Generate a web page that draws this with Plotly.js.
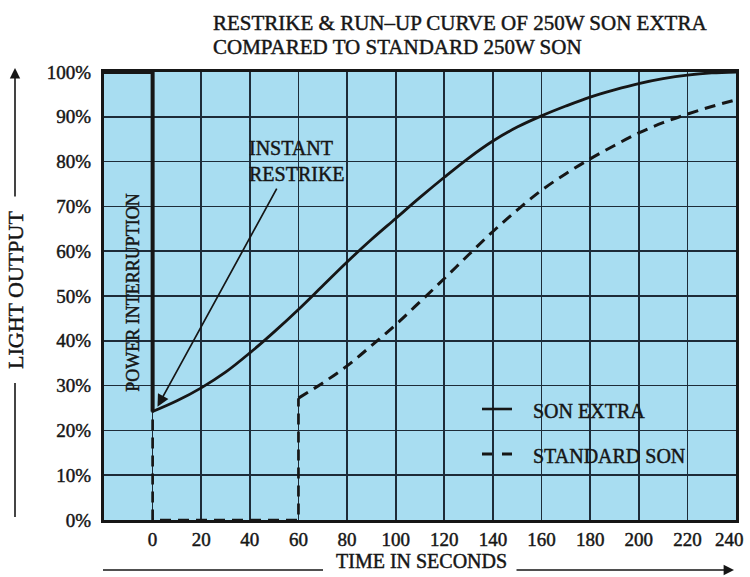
<!DOCTYPE html>
<html>
<head>
<meta charset="utf-8">
<script src="https://cdn.plot.ly/plotly-3.0.1.min.js"></script>
<style>
  html, body { margin: 0; padding: 0; background: #ffffff; }
  #chart { width: 750px; height: 577px; }
  #chart text { stroke: #161616; stroke-width: 0.45px; }
</style>
</head>
<body>
<div id="chart"></div>
<script>
// ---- data ----
// SON EXTRA: power interruption step, then run-up from instant restrike
const extraStepTime = [-20, 0, 0];
const extraStepOutput = [100, 100, 24.2];
const extraRunTime = [0, 10, 20, 30, 40, 50, 60, 70, 80, 90, 100, 110, 120, 130, 140, 150, 160, 170, 180, 190, 200, 210, 220, 230, 240];
const extraRunOutput = [24.2, 26.6, 29.5, 33.0, 37.3, 42.0, 47.0, 52.3, 57.6, 62.6, 67.3, 72.0, 76.5, 80.8, 84.6, 87.7, 90.2, 92.4, 94.4, 96.0, 97.4, 98.5, 99.3, 99.8, 100];

// STANDARD SON: output drops to zero, restrikes after 60 s, then runs up
const standardStepTime = [-20, 0, 0, 60, 60];
const standardStepOutput = [100, 100, 0, 0, 27.2];
const standardRunTime = [60, 70, 80, 90, 100, 110, 120, 130, 140, 150, 160, 170, 180, 190, 200, 210, 220, 230, 240];
const standardRunOutput = [27.2, 30.6, 34.4, 38.9, 43.6, 48.7, 53.9, 59.2, 64.4, 69.2, 73.6, 77.3, 80.6, 83.6, 86.4, 88.7, 90.6, 92.3, 93.8];

const xTickValues = [0, 20, 40, 60, 80, 100, 120, 140, 160, 180, 200, 220, 240];
const xTickLabels = ['0', '20', '40', '60', '80', '100', '120', '140', '160', '180', '200', '220', '240'];
const yTickValues = [0, 10, 20, 30, 40, 50, 60, 70, 80, 90, 100];
const yTickLabels = ['0%', '10%', '20%', '30%', '40%', '50%', '60%', '70%', '80%', '90%', '100%'];

const seriesNames = ['SON EXTRA', 'STANDARD SON'];
const titleLines = ['RESTRIKE &amp; RUN–UP CURVE OF 250W SON EXTRA', 'COMPARED TO STANDARD 250W SON'];
const xAxisLabel = 'TIME IN SECONDS';
const yAxisLabel = 'LIGHT OUTPUT';
const noteRestrike = 'INSTANT<br>RESTRIKE';
const noteInterruption = 'POWER INTERRUPTION';

// ---- styling ----
const INK = '#161616';
const GRID = '#1d2b38';
const BG = '#a8ddf1';
const SERIF = '"Liberation Serif", "Times New Roman", serif';
const DASH = '11px,7px';

const traces = [
  { x: standardStepTime, y: standardStepOutput, name: seriesNames[1], type: 'scatter', mode: 'lines',
    line: { color: INK, width: 2.7, dash: DASH }, cliponaxis: false, showlegend: false },
  { x: standardRunTime, y: standardRunOutput, name: seriesNames[1], type: 'scatter', mode: 'lines',
    line: { color: INK, width: 3, dash: DASH, shape: 'spline', smoothing: 1 }, cliponaxis: false, showlegend: false },
  { x: extraStepTime, y: extraStepOutput, name: seriesNames[0], type: 'scatter', mode: 'lines',
    line: { color: INK, width: 4 }, cliponaxis: false, showlegend: false },
  { x: extraRunTime, y: extraRunOutput, name: seriesNames[0], type: 'scatter', mode: 'lines',
    line: { color: INK, width: 2.8, shape: 'spline', smoothing: 1 }, cliponaxis: false, showlegend: false }
];

const px = v => (v - 104) / 632;   // helper: pixel x -> paper
const py = v => (520 - v) / 448;   // helper: pixel y -> paper

// the last tick label sits at the right edge of the page: draw it nudged inward
const lastTick = xTickValues.length - 1;
const axisTickText = xTickLabels.map((t, i) => (i === lastTick ? '' : t));

const layout = {
  width: 750, height: 577,
  margin: { l: 104, r: 14, t: 72, b: 57, pad: 0 },
  paper_bgcolor: '#ffffff',
  plot_bgcolor: BG,
  showlegend: false,
  xaxis: {
    range: [-20, 240], tickvals: xTickValues, ticktext: axisTickText,
    showgrid: true, gridcolor: GRID, gridwidth: 1.7, zeroline: false,
    showline: true, linecolor: INK, linewidth: 3, mirror: true,
    ticks: '', ticklabelstandoff: 0,
    tickfont: { family: SERIF, size: 19, color: INK },
    fixedrange: true
  },
  yaxis: {
    range: [0, 100], tickvals: yTickValues, ticktext: yTickLabels,
    showgrid: true, gridcolor: GRID, gridwidth: 1.7, zeroline: false,
    showline: true, linecolor: INK, linewidth: 3, mirror: true,
    ticks: '', ticklabelstandoff: 6,
    tickfont: { family: SERIF, size: 19, color: INK },
    fixedrange: true
  },
  shapes: [
    // legend samples
    { type: 'line', xref: 'paper', yref: 'paper', x0: px(482), x1: px(512), y0: py(409), y1: py(409), line: { color: INK, width: 2.6 } },
    { type: 'line', xref: 'paper', yref: 'paper', x0: px(482), x1: px(512), y0: py(454), y1: py(454), line: { color: INK, width: 2.8, dash: '10px,10px' } },
    // axis-label guide lines
    { type: 'line', xref: 'paper', yref: 'paper', x0: px(15), x1: px(15), y0: py(517), y1: py(383), line: { color: INK, width: 1.6 } },
    { type: 'line', xref: 'paper', yref: 'paper', x0: px(103), x1: px(323), y0: py(570), y1: py(570), line: { color: INK, width: 1.6 } }
  ],
  annotations: [
    // last x tick label
    { xref: 'x', yref: 'paper', x: xTickValues[lastTick], xshift: -7, y: py(539), xanchor: 'center', yanchor: 'middle', text: xTickLabels[lastTick], showarrow: false, font: { family: SERIF, size: 19, color: INK } },
    // title
    { xref: 'paper', yref: 'paper', x: px(211), y: py(23), xanchor: 'left', yanchor: 'middle', text: titleLines[0], showarrow: false, font: { family: SERIF, size: 21, color: INK } },
    { xref: 'paper', yref: 'paper', x: px(211), y: py(47), xanchor: 'left', yanchor: 'middle', text: titleLines[1], showarrow: false, font: { family: SERIF, size: 21, color: INK } },
    // legend text
    { xref: 'paper', yref: 'paper', x: px(531), y: py(411), xanchor: 'left', yanchor: 'middle', text: seriesNames[0], showarrow: false, font: { family: SERIF, size: 20, color: INK } },
    { xref: 'paper', yref: 'paper', x: px(531), y: py(456), xanchor: 'left', yanchor: 'middle', text: seriesNames[1], showarrow: false, font: { family: SERIF, size: 20, color: INK } },
    // y-axis label + arrow
    { xref: 'paper', yref: 'paper', x: px(15), y: py(290), xanchor: 'center', yanchor: 'middle', text: yAxisLabel, textangle: -90, showarrow: false, font: { family: SERIF, size: 22, color: INK } },
    { xref: 'paper', yref: 'paper', x: px(15), y: py(68), text: '', showarrow: true, ax: 0, ay: 130, arrowhead: 2, arrowsize: 1.3, arrowwidth: 1.6, arrowcolor: INK, standoff: 0, startstandoff: 0 },
    // x-axis label + arrow
    { xref: 'paper', yref: 'paper', x: px(421), y: py(561), xanchor: 'center', yanchor: 'middle', text: xAxisLabel, showarrow: false, font: { family: SERIF, size: 20, color: INK } },
    { xref: 'paper', yref: 'paper', x: px(734), y: py(570), text: '', showarrow: true, ax: -219, ay: 0, arrowhead: 2, arrowsize: 1.3, arrowwidth: 1.6, arrowcolor: INK, standoff: 0, startstandoff: 0 },
    // notes inside the plot
    { xref: 'x', yref: 'y', x: -8.2, y: 50.9, xanchor: 'center', yanchor: 'middle', text: noteInterruption, textangle: -90, showarrow: false, font: { family: SERIF, size: 18, color: INK } },
    { xref: 'x', yref: 'y', x: 38.8, y: 80.2, xanchor: 'left', yanchor: 'middle', align: 'left', text: noteRestrike, showarrow: false, font: { family: SERIF, size: 20, color: INK } },
    { xref: 'x', yref: 'y', x: 2.0, y: 25.3, axref: 'x', ayref: 'y', ax: 51.4, ay: 74.3, text: '', showarrow: true, arrowhead: 2, arrowsize: 1.4, arrowwidth: 1.7, arrowcolor: INK, standoff: 0, startstandoff: 0 }
  ]
};

Plotly.newPlot('chart', traces, layout, { displayModeBar: false, staticPlot: true });
</script>
</body>
</html>
